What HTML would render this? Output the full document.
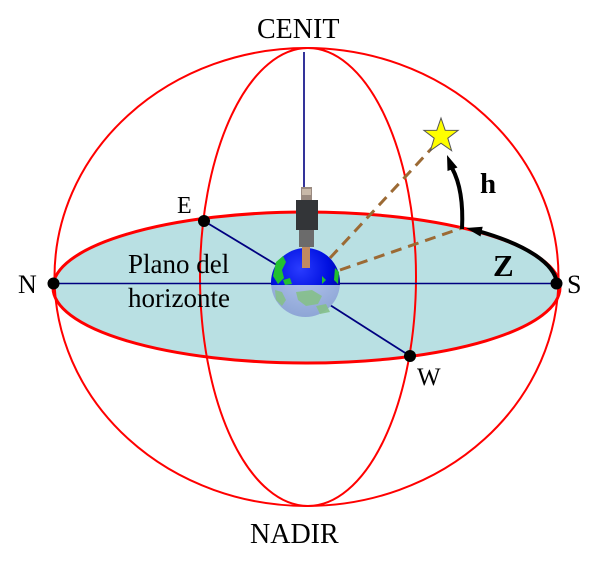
<!DOCTYPE html>
<html><head><meta charset="utf-8"><style>
html,body{margin:0;padding:0;background:#fff;}
svg{display:block;}
text{font-family:"Liberation Serif",serif;fill:#000;}
</style></head><body>
<svg width="600" height="568" viewBox="0 0 600 568" xmlns="http://www.w3.org/2000/svg">
<defs>
<radialGradient id="gtop" cx="0.42" cy="0.3" r="0.7">
<stop offset="0" stop-color="#2a3cff"/>
<stop offset="0.6" stop-color="#0010e0"/>
<stop offset="1" stop-color="#000090"/>
</radialGradient>
<radialGradient id="gbot" cx="0.5" cy="0.3" r="0.7">
<stop offset="0" stop-color="#b8c8f0"/>
<stop offset="1" stop-color="#8ea6d6"/>
</radialGradient>
<clipPath id="ctop"><rect x="260" y="240" width="90" height="45"/></clipPath>
<clipPath id="cbot"><rect x="260" y="285" width="90" height="40"/></clipPath>
</defs>

<ellipse cx="306.5" cy="287.5" rx="253.5" ry="75.5" fill="#b9e0e3" stroke="#ff0000" stroke-width="3"/>

<ellipse cx="306.5" cy="277" rx="252" ry="229" fill="none" stroke="#ff0000" stroke-width="2"/>
<ellipse cx="308" cy="277" rx="108" ry="229" fill="none" stroke="#ff0000" stroke-width="2"/>

<line x1="304" y1="52" x2="304" y2="190" stroke="#000080" stroke-width="1.6"/>
<line x1="53" y1="283.5" x2="557" y2="283.5" stroke="#000080" stroke-width="1.6"/>
<line x1="204" y1="221" x2="285" y2="270" stroke="#000080" stroke-width="1.8"/>
<line x1="330" y1="305" x2="410" y2="356" stroke="#000080" stroke-width="1.8"/>

<circle cx="305.5" cy="282.5" r="34.5" fill="url(#gbot)" clip-path="url(#cbot)"/>
<g clip-path="url(#cbot)" fill="#86c08a" opacity="0.9">
<path d="M275 290 L282 292 L286 300 L282 306 L276 300 Z"/>
<path d="M296 292 L312 290 L322 296 L318 304 L306 306 L298 300 Z"/>
<path d="M316 306 L326 304 L330 312 L320 314 Z"/>
</g>
<circle cx="305.5" cy="282.5" r="34.5" fill="url(#gtop)" clip-path="url(#ctop)"/>
<g clip-path="url(#ctop)" fill="#22c030">
<path d="M276 262 L283 256 L286 262 L282 270 L284 278 L278 284 L273 276 Z"/>
<path d="M283 280 L290 278 L292 284 L285 285 Z"/>
<path d="M335 268 L339 272 L338 284 L334 280 Z"/>
<path d="M322 276 L326 280 L322 284 Z"/>
</g>

<rect x="301" y="187" width="11" height="13" fill="#9a8a80"/>
<rect x="302" y="189" width="9" height="6" fill="#c8b8a8"/>
<rect x="296" y="200" width="22" height="30" fill="#333538"/>
<rect x="299" y="230" width="15" height="17" fill="#6b6b6b"/>
<rect x="302" y="247" width="8" height="21" fill="#c08a60"/>

<line x1="330" y1="258" x2="432" y2="148" stroke="#9c6a34" stroke-width="3" stroke-dasharray="11,7"/>
<line x1="340" y1="270" x2="462" y2="228" stroke="#9c6a34" stroke-width="3" stroke-dasharray="11,7"/>

<polygon points="441,118 445.2,130.2 458.1,130.4 447.8,138.2 451.6,150.6 441,143.2 430.4,150.6 434.2,138.2 423.9,130.4 436.8,130.2" fill="#ffff00" stroke="#555" stroke-width="1"/>

<path d="M557 284 A253.5 75.5 0 0 0 478 231" fill="none" stroke="#000" stroke-width="4"/>
<polygon points="466,228 482.7,226.7 480.5,236.5" fill="#000"/>

<path d="M462 229 Q464 190 452 168" fill="none" stroke="#000" stroke-width="4"/>
<polygon points="447,155 457.5,167.5 447.5,171" fill="#000"/>

<circle cx="53.5" cy="283.5" r="6" fill="#000"/>
<circle cx="556.5" cy="283.5" r="6" fill="#000"/>
<circle cx="204" cy="221" r="6" fill="#000"/>
<circle cx="410" cy="356" r="6" fill="#000"/>

<text x="257" y="38" font-size="28">CENIT</text>
<text x="250" y="543" font-size="28">NADIR</text>
<text x="18" y="293" font-size="26">N</text>
<text x="567" y="293" font-size="26">S</text>
<text x="177" y="213" font-size="24">E</text>
<text x="417" y="385" font-size="25">W</text>
<text x="128" y="273" font-size="27">Plano del</text>
<text x="128" y="307" font-size="27">horizonte</text>
<text x="480" y="193" font-size="29" font-weight="bold">h</text>
<text x="493" y="276" font-size="31" font-weight="bold">Z</text>
</svg>
</body></html>
